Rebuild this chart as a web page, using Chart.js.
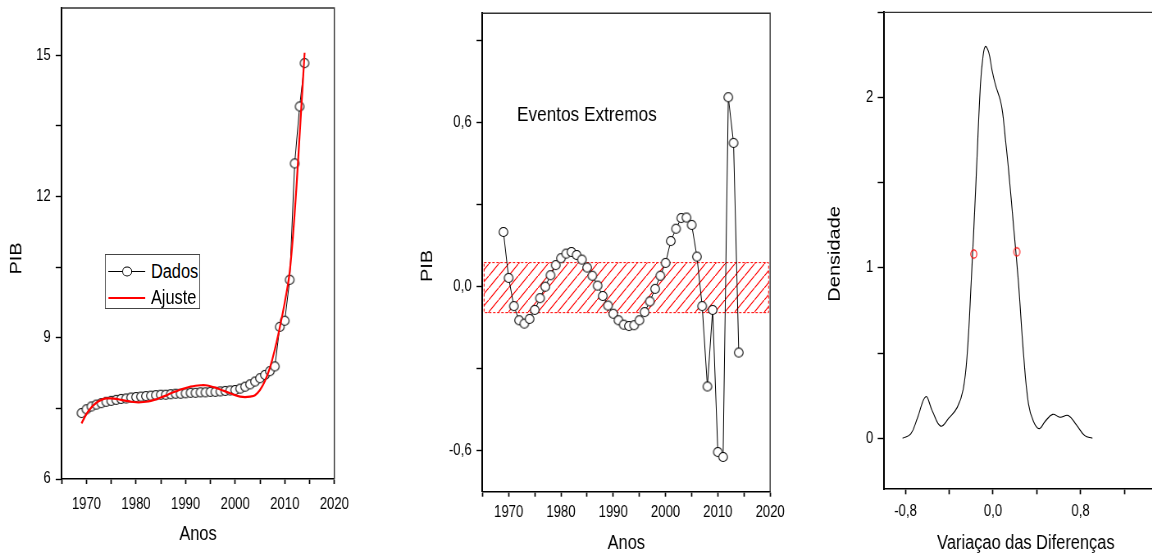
<!DOCTYPE html>
<html lang="pt">
<head>
<meta charset="utf-8">
<title>PIB - Eventos Extremos</title>
<script src="https://cdn.jsdelivr.net/npm/chart.js@4.4.1/dist/chart.umd.min.js"></script>
<style>
  html, body { margin: 0; padding: 0; background: #fff; width: 1152px; height: 556px; overflow: hidden; }
  /* os três quadros são desenhados largos e comprimidos na horizontal (fonte estreita) */
  #quadro {
    position: absolute; left: 0; top: 0; width: 1405px; height: 556px;
    transform: scaleX(0.82); transform-origin: 0 0;
  }
  .painel { position: absolute; top: 0; }
  #legenda {
    position: absolute; left: 128px; top: 254px; width: 116px; height: 55px;
    border: 1px solid #444; background: #fff; padding-top: 3px; box-sizing: border-box;
    font: 20px "Liberation Sans", Arial, sans-serif;
  }
  #legenda .item { position: relative; height: 26px; line-height: 26px; }
  #legenda .simbolo { position: absolute; left: 3px; top: 13px; width: 45px; border-top: 1px solid #000; }
  #legenda .simbolo i {
    position: absolute; left: 50%; top: 0; width: 10px; height: 8px; border: 1px solid #000;
    border-radius: 50%; background: #fff; transform: translate(-50%, -55%);
  }
  #legenda .texto { position: absolute; left: 55px; top: 0; }
</style>
</head>
<body>
<div id="quadro">
  <canvas id="grafPib" class="painel" width="439" height="556" style="left:0"></canvas>
  <canvas id="grafDif" class="painel" width="488" height="556" style="left:487.8px"></canvas>
  <canvas id="grafDens" class="painel" width="512" height="556" style="left:975.6px"></canvas>
  <div id="legenda"></div>
</div>

<script>
// Série anual do PIB e ajuste
const anos = [1969, 1970, 1971, 1972, 1973, 1974, 1975, 1976, 1977, 1978,
              1979, 1980, 1981, 1982, 1983, 1984, 1985, 1986, 1987, 1988,
              1989, 1990, 1991, 1992, 1993, 1994, 1995, 1996, 1997, 1998,
              1999, 2000, 2001, 2002, 2003, 2004, 2005, 2006, 2007, 2008,
              2009, 2010, 2011, 2012, 2013, 2014];
const pibDados = [7.40, 7.48, 7.54, 7.58, 7.61, 7.64, 7.66, 7.68, 7.70, 7.71,
                  7.73, 7.74, 7.75, 7.76, 7.77, 7.78, 7.79, 7.79, 7.80, 7.81,
                  7.81, 7.82, 7.83, 7.83, 7.84, 7.84, 7.85, 7.85, 7.86, 7.87,
                  7.88, 7.89, 7.92, 7.96, 8.01, 8.07, 8.14, 8.21, 8.29, 8.39,
                  9.23, 9.36, 10.23, 12.70, 13.91, 14.83];
const pibAjuste = [7.18, 7.38, 7.52, 7.62, 7.68, 7.71, 7.71, 7.70, 7.68, 7.66,
                   7.64, 7.63, 7.63, 7.64, 7.66, 7.69, 7.73, 7.77, 7.82, 7.86,
                   7.90, 7.93, 7.96, 7.98, 7.99, 7.99, 7.97, 7.94, 7.90, 7.86,
                   7.82, 7.78, 7.75, 7.74, 7.75, 7.78, 7.89, 8.08, 8.36, 8.75,
                   9.22, 9.75, 10.40, 11.65, 13.30, 15.05];

// Diferenças (resíduos) e faixa de normalidade
const difPib = [0.200, 0.032, -0.071, -0.123, -0.135, -0.118, -0.085, -0.042, 0.000, 0.042,
                0.079, 0.104, 0.121, 0.127, 0.116, 0.099, 0.070, 0.040, 0.004, -0.034,
                -0.069, -0.099, -0.123, -0.139, -0.144, -0.141, -0.123, -0.093, -0.054, -0.008,
                0.040, 0.087, 0.167, 0.212, 0.251, 0.253, 0.226, 0.110, -0.071, -0.365,
                -0.085, -0.605, -0.623, 0.693, 0.526, -0.241];
const faixaAnos = [1965.3, 2019.7];
const faixaLimites = [-0.095, 0.088];

// Densidade estimada das diferenças
const densX = [-0.827, -0.752, -0.691, -0.615, -0.555, -0.479, -0.403, -0.327, -0.273, -0.236,
               -0.200, -0.161, -0.115, -0.091, -0.070, -0.039, -0.009, 0.021, 0.067, 0.088,
               0.112, 0.142, 0.188, 0.233, 0.279, 0.324, 0.370, 0.421, 0.476, 0.545,
               0.612, 0.688, 0.764, 0.839, 0.909];
const densY = [0.000, 0.025, 0.119, 0.244, 0.160, 0.071, 0.119, 0.181, 0.285, 0.494,
               0.910, 1.431, 2.077, 2.244, 2.300, 2.265, 2.160, 2.077, 1.983, 1.910,
               1.765, 1.577, 1.244, 0.910, 0.494, 0.202, 0.098, 0.056, 0.098, 0.140,
               0.123, 0.133, 0.077, 0.015, 0.000];
const marcasX = [-0.176, 0.218];
const marcasY = [1.081, 1.094];

// Rótulos dos eixos
const rotulosAnos = [1970, 1980, 1990, 2000, 2010, 2020];
const rotulosPib = [6, 9, 12, 15];
const rotulosDif = [-0.6, 0, 0.6];
const rotulosDens = [0, 1, 2];
const rotulosVar = [-0.8, 0, 0.8];

const FONTE = '"Liberation Sans", Arial, sans-serif';

Chart.defaults.font.family = FONTE;
Chart.defaults.font.size = 16;
Chart.defaults.font.lineHeight = 0.9;
Chart.defaults.color = '#000';

function comVirgula(v) {
  if (Math.abs(v) < 1e-9) v = 0;
  return v.toFixed(1).replace('.', ',');
}

// só escreve o rótulo se o valor estiver na lista
function rotuloDe(lista, fmt) {
  return v => lista.some(r => Math.abs(r - v) < 1e-6) ? fmt(v) : '';
}

function escala(cfg) {
  const horizontal = cfg.eixo === 'x';
  const s = {
    type: 'linear',
    position: horizontal ? 'bottom' : 'left',
    min: cfg.min,
    max: cfg.max,
    border: { color: '#000', width: horizontal ? 1.6 : 2 },
    grid: {
      drawOnChartArea: false, drawTicks: true,
      tickLength: horizontal ? 5 : 7.3, tickColor: '#000', tickWidth: horizontal ? 1.7 : 1.4
    },
    ticks: {
      stepSize: cfg.passo, includeBounds: false, autoSkip: false,
      maxRotation: 0, minRotation: 0, padding: cfg.pad, callback: cfg.rotulo,
      // no eixo y a altura da linha só entra no cálculo da margem
      font: horizontal ? {} : { lineHeight: 0.25 }
    },
    afterFit: horizontal ? (e => { e.height = cfg.tamanho; }) : (e => { e.width = cfg.tamanho; })
  };
  if (cfg.titulo) {
    s.title = {
      display: true, text: cfg.titulo,
      font: { size: 20, lineHeight: 1.2 },
      padding: { top: 0, bottom: cfg.padTitulo }
    };
  }
  return s;
}

// contorno superior e direito do quadro
const moldura = {
  id: 'moldura',
  afterDatasetsDraw(chart) {
    const { ctx, chartArea: a } = chart;
    ctx.save();
    ctx.strokeStyle = '#333';
    ctx.lineWidth = 1.4;
    ctx.beginPath();
    ctx.moveTo(a.left, a.top);
    ctx.lineTo(a.right, a.top);
    ctx.lineTo(a.right, a.bottom);
    ctx.stroke();
    ctx.restore();
  }
};

// título vertical do eixo y (um pouco deslocado do centro)
const tituloLateral = {
  id: 'tituloLateral',
  afterDraw(chart, args, opts) {
    if (!opts.texto) return;
    const { ctx, chartArea: a } = chart;
    ctx.save();
    ctx.translate(opts.x, (a.top + a.bottom) / 2 + opts.desvio);
    ctx.rotate(-Math.PI / 2);
    ctx.font = '20px ' + FONTE;
    ctx.fillStyle = '#000';
    ctx.textAlign = 'center';
    ctx.textBaseline = 'middle';
    ctx.fillText(opts.texto, 0, 0);
    ctx.restore();
  }
};

// texto livre posicionado em coordenadas dos dados
const nota = {
  id: 'nota',
  afterDatasetsDraw(chart, args, opts) {
    if (!opts.texto) return;
    const { ctx, scales } = chart;
    ctx.save();
    ctx.font = '21px ' + FONTE;
    ctx.fillStyle = '#000';
    ctx.textAlign = 'left';
    ctx.textBaseline = 'middle';
    ctx.fillText(opts.texto, scales.x.getPixelForValue(opts.x), scales.y.getPixelForValue(opts.y));
    ctx.restore();
  }
};

const baseOpcoes = (padding, extras) => ({
  responsive: false,
  animation: false,
  devicePixelRatio: 1,
  layout: { padding },
  plugins: Object.assign({ legend: { display: false }, tooltip: { enabled: false } }, extras)
});

// marcador oco (mais largo para compensar a compressão horizontal)
function marcador(rx, ry, cor, fundo) {
  const c = document.createElement('canvas');
  c.width = Math.ceil(rx * 2 + 3);
  c.height = Math.ceil(ry * 2 + 3);
  const g = c.getContext('2d');
  g.beginPath();
  g.ellipse(c.width / 2, c.height / 2, rx, ry, 0, 0, Math.PI * 2);
  if (fundo) { g.fillStyle = fundo; g.fill(); }
  g.strokeStyle = cor;
  g.lineWidth = 1.1;
  g.stroke();
  return c;
}
const bolinha = marcador(5.3, 4.5, '#000', '#fff');

// ---------- Painel 1: PIB e ajuste ----------
const pontosDados = anos.map((a, i) => ({ x: a, y: pibDados[i] }));
const pontosAjuste = anos.map((a, i) => ({ x: a, y: pibAjuste[i] }));

const chartPib = new Chart(document.getElementById('grafPib'), {
  type: 'line',
  data: {
    datasets: [
      {
        label: 'Ajuste', data: pontosAjuste,
        borderColor: '#ff0000', borderWidth: 2.2, pointRadius: 0, tension: 0.4, fill: false
      },
      {
        label: 'Dados', data: pontosDados,
        borderColor: '#000', borderWidth: 1, tension: 0,
        pointStyle: bolinha, pointRadius: 5
      }
    ]
  },
  options: Object.assign(baseOpcoes({ top: 7.3, right: 25, bottom: 0, left: 0 },
    { tituloLateral: { texto: 'PIB', x: 20.7, desvio: 15 } }), {
    scales: {
      x: escala({ eixo: 'x', min: 1965, max: 2020, passo: 5, pad: 13.5,
        rotulo: rotuloDe(rotulosAnos, v => String(v)), tamanho: 77, titulo: 'Anos', padTitulo: 9.7 }),
      y: escala({ eixo: 'y', min: 6, max: 16, passo: 1.5, pad: 6,
        rotulo: rotuloDe(rotulosPib, v => String(v)), tamanho: 75.2 })
    }
  }),
  plugins: [moldura, tituloLateral]
});

// legenda em HTML montada a partir dos datasets
function montarLegenda(chart, ordem) {
  const caixa = document.getElementById('legenda');
  ordem.forEach(i => {
    const ds = chart.data.datasets[i];
    const item = document.createElement('div');
    item.className = 'item';
    const simb = document.createElement('span');
    simb.className = 'simbolo';
    simb.style.borderTopColor = ds.borderColor;
    simb.style.borderTopWidth = ds.borderWidth + 'px';
    if (ds.pointRadius > 0) simb.appendChild(document.createElement('i'));
    const txt = document.createElement('span');
    txt.className = 'texto';
    txt.textContent = ds.label;
    item.appendChild(simb);
    item.appendChild(txt);
    caixa.appendChild(item);
  });
}
montarLegenda(chartPib, [1, 0]);

// ---------- Painel 2: diferenças e eventos extremos ----------
function padraoHachurado() {
  const c = document.createElement('canvas');
  c.width = 12; c.height = 12;
  const g = c.getContext('2d');
  g.strokeStyle = '#ff0000';
  g.lineWidth = 1.2;
  g.beginPath();
  g.moveTo(-1, 13); g.lineTo(13, -1);
  g.stroke();
  return g.createPattern(c, 'repeat');
}

const contornoFaixa = [
  { x: faixaAnos[0], y: faixaLimites[1] },
  { x: faixaAnos[1], y: faixaLimites[1] },
  { x: faixaAnos[1], y: faixaLimites[0] },
  { x: faixaAnos[0], y: faixaLimites[0] },
  { x: faixaAnos[0], y: faixaLimites[1] }
];

new Chart(document.getElementById('grafDif'), {
  type: 'line',
  data: {
    datasets: [
      {
        label: 'Diferenças', data: anos.map((a, i) => ({ x: a, y: difPib[i] })),
        borderColor: '#000', borderWidth: 1, tension: 0,
        pointStyle: bolinha, pointRadius: 5
      },
      {
        label: 'Faixa', data: contornoFaixa,
        borderColor: '#ff0000', borderWidth: 1, borderDash: [3, 2], pointRadius: 0, tension: 0,
        backgroundColor: padraoHachurado(), fill: 'shape'
      }
    ]
  },
  options: Object.assign(baseOpcoes({ top: 13.3, right: 36.8, bottom: 0, left: 0 },
    { tituloLateral: { texto: 'PIB', x: 33.3, desvio: 13.5 },
      nota: { texto: 'Eventos Extremos', x: 1971.6, y: 0.628 } }), {
    scales: {
      x: escala({ eixo: 'x', min: 1965, max: 2020, passo: 5, pad: 9,
        rotulo: rotuloDe(rotulosAnos, v => String(v)), tamanho: 64.3, titulo: 'Anos', padTitulo: 0.7 }),
      y: escala({ eixo: 'y', min: -0.75, max: 1.0, passo: 0.3, pad: 6,
        rotulo: rotuloDe(rotulosDif, comVirgula), tamanho: 100.4 })
    }
  }),
  plugins: [moldura, tituloLateral, nota]
});

// ---------- Painel 3: densidade das diferenças ----------
new Chart(document.getElementById('grafDens'), {
  type: 'line',
  data: {
    datasets: [
      {
        label: 'Marcas', data: marcasX.map((x, i) => ({ x, y: marcasY[i] })),
        showLine: false, pointStyle: marcador(3.7, 4.1, '#ff0000', null), pointRadius: 5
      },
      {
        label: 'Densidade', data: densX.map((x, i) => ({ x, y: densY[i] })),
        borderColor: '#000', borderWidth: 1.1, pointRadius: 0, tension: 0.4, fill: false
      }
    ]
  },
  options: Object.assign(baseOpcoes({ top: 12.4, right: 63.6, bottom: 0, left: 0 },
    { tituloLateral: { texto: 'Densidade', x: 42.1, desvio: 3 } }), {
    scales: {
      x: escala({ eixo: 'x', min: -1.0, max: 1.6, passo: 0.4, pad: 10,
        rotulo: rotuloDe(rotulosVar, comVirgula), tamanho: 66.7,
        titulo: 'Variaçao das Diferenças', padTitulo: 0.7 }),
      y: escala({ eixo: 'y', min: -0.3, max: 2.5, passo: 0.5, pad: 5.5,
        rotulo: rotuloDe(rotulosDens, v => String(v)), tamanho: 101.6 })
    }
  }),
  plugins: [moldura, tituloLateral]
});
</script>
</body>
</html>
